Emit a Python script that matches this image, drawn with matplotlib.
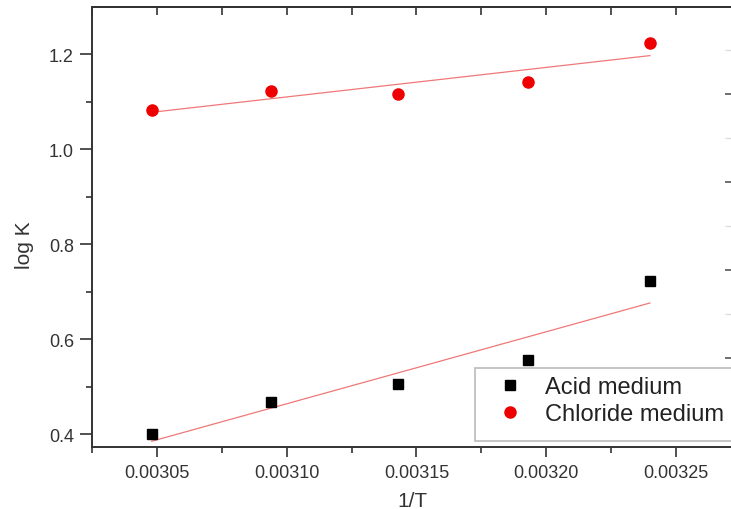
import numpy as np
import matplotlib.pyplot as plt
from matplotlib.ticker import MultipleLocator, FormatStrFormatter, FixedLocator
from matplotlib.lines import Line2D
from matplotlib.patches import Rectangle

plt.rcParams['font.family'] = ['Liberation Sans', 'DejaVu Sans']

# data
inv_T = [0.003048, 0.003094, 0.003143, 0.003193, 0.003240]
logK_acid = [0.400, 0.467, 0.505, 0.556, 0.722]
logK_chloride = [1.082, 1.122, 1.116, 1.141, 1.223]

# faint ticks on the (cropped) right-hand axis
right_major = [1.1158, 0.9305, 0.7453, 0.5600]
right_minor = [1.2084, 1.0232, 0.8379, 0.6526, 0.4674]

fig = plt.figure(figsize=(7.31, 5.10), dpi=100)
ax = fig.add_axes([92 / 731, 1 - 448 / 510, 641 / 731, 440 / 510])

x = np.array(inv_T)
ax.plot(x, logK_acid, 's', color='black', markersize=7.2, zorder=3)
ax.plot(x, logK_chloride, 'o', color='#ee0000', markersize=8, zorder=3)

# linear fits
for y in (logK_acid, logK_chloride):
    k, b = np.polyfit(x, y, 1)
    ax.plot(x[[0, -1]], k * x[[0, -1]] + b, '-', color='#f07878', lw=0.9, zorder=2)

ax.set_xlim(0.003025, 0.003272)
ax.set_ylim(0.373, 1.299)
ax.xaxis.set_major_locator(MultipleLocator(0.00005))
ax.xaxis.set_minor_locator(MultipleLocator(0.000025))
ax.xaxis.set_major_formatter(FormatStrFormatter('%.5f'))
ax.yaxis.set_major_locator(MultipleLocator(0.2))
ax.yaxis.set_minor_locator(MultipleLocator(0.1))
ax.yaxis.set_major_formatter(FormatStrFormatter('%.1f'))

for s in ax.spines.values():
    s.set_linewidth(1.4)
    s.set_color('#333333')
ax.spines['right'].set_visible(False)

ax.tick_params(axis='both', which='major', labelsize=13, colors='#333333',
               width=1.2, length=7, pad=4, labelcolor='#333333')
ax.tick_params(axis='both', which='minor', width=1.2, length=4, colors='#333333')
ax.tick_params(axis='y', which='major', length=9, pad=4)
ax.tick_params(axis='x', which='major', direction='out', pad=5)

# top ticks pointing inward
top = ax.secondary_xaxis('top')
top.xaxis.set_major_locator(MultipleLocator(0.00005))
top.xaxis.set_minor_locator(MultipleLocator(0.000025))
top.tick_params(which='both', direction='in', labeltop=False, width=1.2,
                colors='#333333', length=6)
top.spines['top'].set_linewidth(1.4)
top.spines['top'].set_color('#333333')

ax.set_xlabel('1/T', fontsize=15, color='#333333')
ax.set_ylabel('log K', fontsize=15, color='#333333')
ax.xaxis.set_label_coords(0.5, -0.1)
ax.yaxis.set_label_coords(-0.091, 0.461)

ax2 = ax.twinx()
ax2.set_ylim(ax.get_ylim())
ax2.yaxis.set_major_locator(FixedLocator(right_major))
ax2.yaxis.set_minor_locator(FixedLocator(right_minor))
ax2.tick_params(which='major', direction='in', length=6, width=1.2,
                colors='#555555', labelright=False)
ax2.tick_params(which='minor', direction='in', length=6, width=1.0,
                colors='#dddddd', labelright=False)
for s in ax2.spines.values():
    s.set_visible(False)

# legend box (drawn separately so it can have extra room at the bottom)
box = Rectangle((0.5975, 0.0136), 0.42, 0.1664, transform=ax2.transAxes,
                facecolor='white', edgecolor='#bbbbbb', lw=1.2, zorder=5,
                clip_on=False)
ax2.add_patch(box)

handles = [
    Line2D([], [], ls='none', marker='s', color='black', markersize=7.2),
    Line2D([], [], ls='none', marker='o', color='#ee0000', markersize=8),
]
leg = ax2.legend(handles, ['Acid medium', 'Chloride medium'],
                 loc='upper left', bbox_to_anchor=(0.5975, 0.18),
                 borderaxespad=0, fontsize=17, frameon=False,
                 handletextpad=0.3, labelspacing=0.2, borderpad=0.35,
                 handlelength=2.3)
leg.set_zorder(6)
for t in leg.get_texts():
    t.set_color('#222222')

fig.savefig('out.png', dpi=100)
